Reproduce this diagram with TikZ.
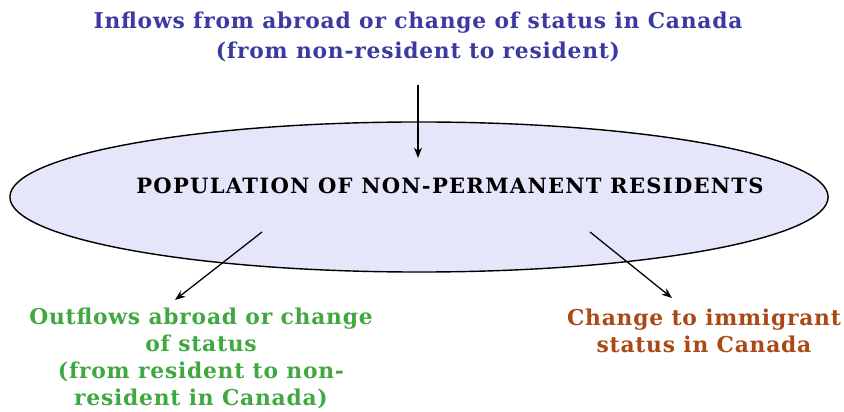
\documentclass[tikz,border=0pt]{standalone}
\usepackage{fontspec}
\setmainfont{DejaVu Serif}
\newfontfamily\flowfont[LetterSpace=3.5]{DejaVu Serif}
\newfontfamily\popfont[LetterSpace=6]{DejaVu Serif}
\usetikzlibrary{arrows.meta, positioning, shapes.geometric}
\definecolor{inblue}{RGB}{58,58,160}
\definecolor{outgreen}{RGB}{64,168,64}
\definecolor{immbrown}{RGB}{170,72,22}
\definecolor{popfill}{RGB}{230,230,250}
\begin{document}
\begin{tikzpicture}[
    x=0.025cm, y=-0.025cm,
    % Styles for the population and the flows
    pool/.style={draw, ellipse, fill=popfill, line width=1pt, minimum width=20.45cm, minimum height=3.75cm, inner sep=0pt},
    flowtext/.style={align=center, font=\flowfont\bfseries\fontsize{15.5}{19.2}\selectfont},
    connector/.style={-{Stealth[length=2.6mm, width=2mm]}, line width=0.9pt}
]
    \useasboundingbox (0,0) rectangle (844,412);

    % --- NODES ---
    \node [pool] (pop) at (419,197) {};
    \node [font=\popfont\bfseries\fontsize{15}{17}\selectfont] (poplabel) at (450,186) {POPULATION OF NON-PERMANENT RESIDENTS};
    \node [flowtext, font=\flowfont\bfseries\fontsize{15.5}{21.3}\selectfont, text=inblue] (inflow) at (418,37) {Inflows from abroad or change of status in Canada\\(from non-resident to resident)};
    \node [flowtext, text=outgreen] (outflow) at (201,358) {Outflows abroad or change\\of status\\(from resident to non-\\resident in Canada)};
    \node [flowtext, text=immbrown] (immig) at (704,331) {Change to immigrant\\status in Canada};

    % Ends of the arrows inside the ellipse
    \coordinate (intip) at (418,158);
    \coordinate (outstart) at (262,232);
    \coordinate (immstart) at (590,232);

    % --- CONNECTIONS ---
    \draw [connector] (inflow.south |- 0,85) -- (intip);
    \draw [connector] (outstart) -- (175,300);
    \draw [connector] (immstart) -- (672,298);

\end{tikzpicture}
\end{document}
